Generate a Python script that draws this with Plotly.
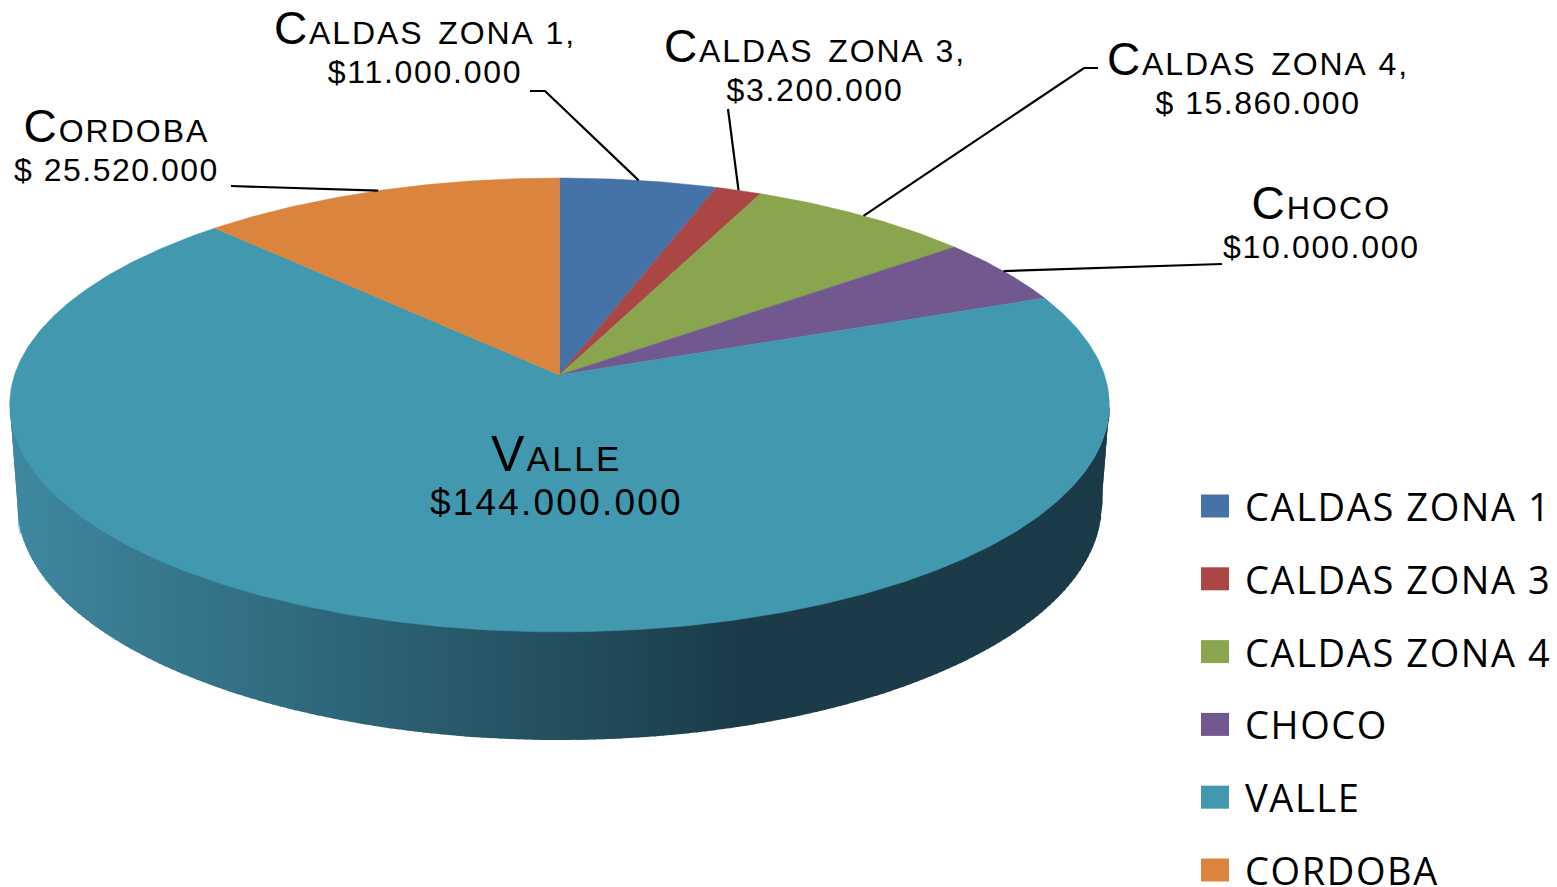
import re
import numpy as np
import plotly.graph_objects as go

# ---- data ----
categories = ["CALDAS ZONA 1", "CALDAS ZONA 3", "CALDAS ZONA 4", "CHOCO", "VALLE", "CORDOBA"]
values = [11000000, 3200000, 15860000, 10000000, 144000000, 25520000]
label_names = ["Caldas zona 1,", "Caldas zona 3,", "Caldas zona 4,", "Choco", "Valle", "Cordoba"]
label_values = ["$11.000.000", "$3.200.000", "$ 15.860.000", "$10.000.000", "$144.000.000", "$ 25.520.000"]

# ---- style ----
colors = ["#4572A7", "#AA4643", "#89A54E", "#71588F", "#4198AF", "#DB843D"]
FONT = "Liberation Sans"
LEGEND_FONT = "Open Sans"

# perspective disc (pixel-sized axes)
CX, CY = 559.5, 375.0
A, C, K = 545.0, 223.0, 0.132
BOT_CX, BOT_CY, BOT_A, BOT_B = 559.5, 505.0, 542.0, 235.0

# label centres, font sizes and letter spacing
label_x = [425, 815, 1257.5, 1321, 556, 116]
label_y = [46, 64, 77, 221, 474, 144]
base_size = [30, 30, 30, 30, 34, 30]
big_size = [46, 46, 46, 46, 50, 46]
num_size = [32, 32, 32, 32, 37, 32]
big_sp = [1.9, 1.9, 1.9, 2.1, 2.4, 2.0]
num_sp = [1.7, 1.7, 1.5, 1.7, 2.2, 1.5]
# where each leader line leaves its label (None = no leader)
leader_from = [[(530, 91), (545, 91)], [(728, 109)], [(1098, 68), (1084, 68)],
               [(1222, 264)], None, [(231, 186)]]


def disc(theta):
    """Angle clockwise from 12 o'clock -> pixel position on the top face."""
    X, Y = np.sin(theta), np.cos(theta)
    w = 1 + K * Y
    return CX + A * X / w, CY - C * Y / w


fractions = np.array(values, dtype=float) / np.sum(values)
edges = np.concatenate([[0], np.cumsum(fractions)]) * 2 * np.pi

fig = go.Figure()

# side wall: vertical strips shaded left to right, each painted over the last
turn = np.arccos(-K)
front = np.linspace(2 * np.pi - turn, turn, 1441)
fx, fy = disc(front)
half_w = fx.max() - CX
strip_x = CX + half_w * np.sin(np.linspace(-np.pi / 2, np.pi / 2, 201))
top_y = np.interp(strip_x, fx, fy)
dx = strip_x - BOT_CX
side_frac = np.clip((half_w - np.abs(dx)) / (half_w - BOT_A), 0, 1)
bot_y = np.where(np.abs(dx) <= BOT_A,
                 BOT_CY + BOT_B * np.sqrt(np.clip(1 - (dx / BOT_A) ** 2, 0, 1)),
                 fy[0] + (BOT_CY - fy[0]) * side_frac)
light, dark = np.array([62, 136, 160]), np.array([26, 59, 71])
for i in range(len(strip_x) - 1):
    x0, x1 = strip_x[i], strip_x[i + 1]
    reach = min(1.5, strip_x[-1] - x1)
    slope = (bot_y[i + 1] - bot_y[i]) / max(x1 - x0, 1e-6)
    xs = [x0, x1 + reach, x1 + reach, x0, x0]
    ys = [top_y[i] - 2, top_y[i + 1] - 2, bot_y[i + 1] + slope * reach, bot_y[i], top_y[i] - 2]
    t = np.clip(((x0 + x1) / 2 - 10) / 740, 0, 1)
    r, g, b = np.round(light + (dark - light) * t).astype(int)
    col = f"rgb({r},{g},{b})"
    fig.add_trace(go.Scatter(x=xs, y=ys, mode="lines", fill="toself", fillcolor=col,
                             line=dict(color=col, width=0), hoverinfo="skip", showlegend=False))

# top face slices
for i, name in enumerate(categories):
    th = np.linspace(edges[i], edges[i + 1], max(3, int(fractions[i] * 720)))
    ex, ey = disc(th)
    fig.add_trace(go.Scatter(
        x=np.concatenate([[CX], ex, [CX]]), y=np.concatenate([[CY], ey, [CY]]),
        mode="lines", fill="toself", fillcolor=colors[i],
        line=dict(color=colors[i], width=0.5), name=name,
        text=f"{name}: {label_values[i]}", hoverinfo="text", showlegend=False))

# leader lines, ending at the middle of each slice's rim
for i, start in enumerate(leader_from):
    if start is None:
        continue
    mx, my = disc((edges[i] + edges[i + 1]) / 2)
    fig.add_trace(go.Scatter(x=[p[0] for p in start] + [float(mx)],
                             y=[p[1] for p in start] + [float(my)],
                             mode="lines", line=dict(color="black", width=2.2),
                             hoverinfo="skip", showlegend=False))

annotations = []
for i in range(len(categories)):
    m = re.match(r"(.*?)(\s\d,)?$", label_names[i])
    head = (f'<span style="font-size:{big_size[i]}px;letter-spacing:{big_sp[i]}px">{m.group(1)}</span>')
    if m.group(2):
        head += (f'<span style="font-size:{int(big_size[i] * 0.7)}px;letter-spacing:{big_sp[i]}px">'
                 f'{m.group(2)}</span>')
    text = (f'{head}<br><span style="font-size:{num_size[i]}px;letter-spacing:{num_sp[i]}px">'
            f'{label_values[i]}</span>')
    annotations.append(dict(x=label_x[i], y=label_y[i], xref="x", yref="y", text=text, showarrow=False,
                            xanchor="center", yanchor="middle", align="center",
                            font=dict(family=FONT, size=base_size[i], color="black", variant="small-caps")))

# legend
shapes = []
LEG_Y0, LEG_STEP = 506.0, 72.8
for i, name in enumerate(categories):
    yc = LEG_Y0 + LEG_STEP * i
    shapes.append(dict(type="rect", xref="x", yref="y", x0=1201, x1=1229, y0=yc - 11.5, y1=yc + 11.5,
                       fillcolor=colors[i], line=dict(width=0), layer="above"))
    annotations.append(dict(x=1243, y=yc, xref="x", yref="y", text=f'<span style="letter-spacing:1.6px">{name}</span>',
                            showarrow=False, xanchor="left", yanchor="middle",
                            font=dict(family=LEGEND_FONT, size=38, color="black")))

fig.update_layout(
    width=1557, height=887, margin=dict(l=0, r=0, t=0, b=0),
    paper_bgcolor="white", plot_bgcolor="white", showlegend=False,
    xaxis=dict(range=[0, 1557], visible=False, fixedrange=True),
    yaxis=dict(range=[887, 0], visible=False, fixedrange=True),
    shapes=shapes, annotations=annotations,
)
fig.write_html("out.html", config={"displayModeBar": False},
               post_script="document.body.style.margin='0';document.body.style.overflow='hidden';")
